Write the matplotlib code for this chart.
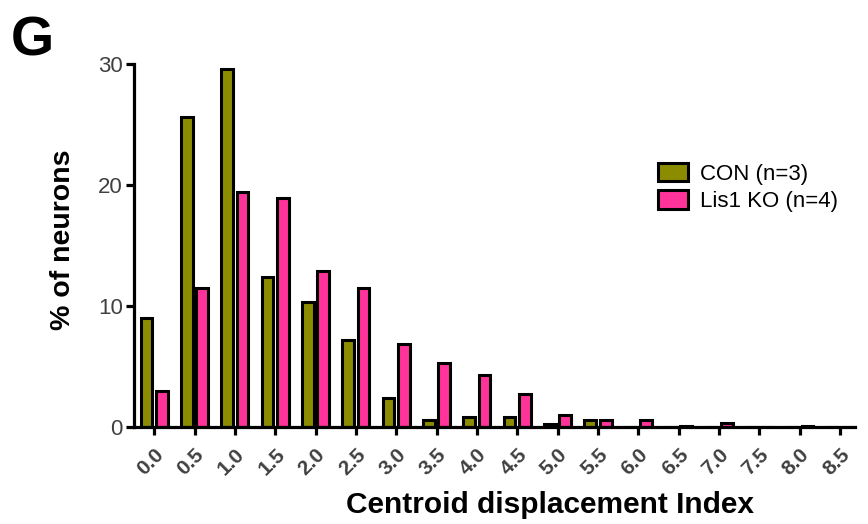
import matplotlib
matplotlib.use("Agg")
import matplotlib.pyplot as plt
import numpy as np
from matplotlib.patches import Patch

categories = ["0.0", "0.5", "1.0", "1.5", "2.0", "2.5", "3.0", "3.5", "4.0",
              "4.5", "5.0", "5.5", "6.0", "6.5", "7.0", "7.5", "8.0", "8.5"]
con_values = [9.0, 25.6, 29.6, 12.4, 10.3, 7.2, 2.4, 0.55, 0.85,
              0.85, 0.25, 0.55, 0.0, 0.0, 0.0, 0.0, 0.0, 0.0]
ko_values = [3.0, 11.5, 19.4, 18.9, 12.9, 11.5, 6.9, 5.3, 4.3,
             2.7, 1.0, 0.6, 0.6, 0.12, 0.3, 0.0, 0.12, 0.0]
series_labels = ["CON (n=3)", "Lis1 KO (n=4)"]
y_ticks = [0, 10, 20, 30]

con_color = "#8c8c00"
ko_color = "#ff3399"

plt.rcParams['font.family'] = ['Liberation Sans', 'DejaVu Sans']

fig = plt.figure(figsize=(8.68, 5.24), dpi=100)
ax = fig.add_axes([134/868, 1-427/524, (855-134)/868, (427-64)/524])

x = np.arange(len(categories))
w = 0.29
off = 0.19
ax.bar(x - off, con_values, width=w, color=con_color, edgecolor='black', linewidth=2.2, zorder=3)
ax.bar(x + off, ko_values, width=w, color=ko_color, edgecolor='black', linewidth=2.2, zorder=3)

ax.set_xlim(-0.5, 17.37)
ax.set_ylim(0, 30)
ax.set_yticks(y_ticks)
ax.set_yticklabels([str(t) for t in y_ticks], fontsize=16, color='#404040')
ax.set_xticks(x)
ax.set_xticklabels(categories, rotation=45, ha='right', rotation_mode='anchor',
                   fontsize=15, fontweight='bold', color='#404040')

for s in ['top', 'right']:
    ax.spines[s].set_visible(False)
for s in ['left', 'bottom']:
    ax.spines[s].set_linewidth(2.3)
    ax.spines[s].set_zorder(4)
ax.tick_params(axis='both', direction='out', length=6, width=2.3, pad=2)
ax.tick_params(axis='x', pad=7)

fig.text(63/868, 1-240/524, "% of neurons", rotation=90, ha='center', va='center',
         fontsize=20.5, fontweight='bold')
fig.text(550/868, 1-505/524, "Centroid displacement Index", ha='center', va='center',
         fontsize=21.5, fontweight='bold')
fig.text(11/868, 1-55/524, "G", ha='left', va='baseline', fontsize=40, fontweight='bold')

handles = [Patch(facecolor=con_color, edgecolor='black', linewidth=2.2),
           Patch(facecolor=ko_color, edgecolor='black', linewidth=2.2)]
leg = fig.legend(handles, series_labels, loc='upper left',
                 bbox_to_anchor=(658/868, 1-163/524), frameon=False,
                 fontsize=16, handlelength=1.36, handleheight=0.9,
                 handletextpad=0.55, labelspacing=0.25, borderaxespad=0, borderpad=0)

fig.savefig("out.png", dpi=100)
